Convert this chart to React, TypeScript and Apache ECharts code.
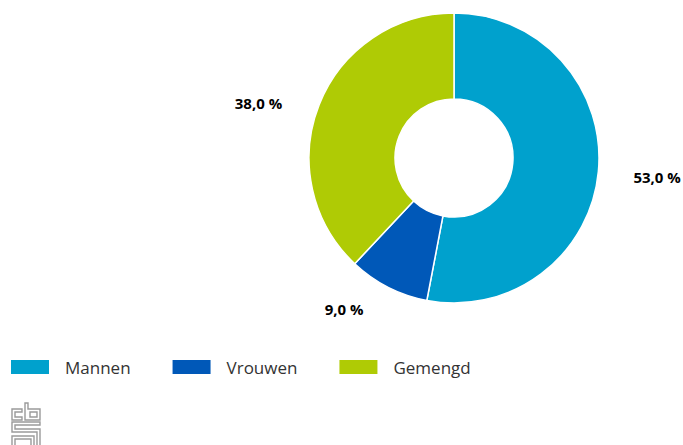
import React, { useEffect, useRef } from "react";
import * as echarts from "echarts";

const categories = ["Mannen", "Vrouwen", "Gemengd"];
const values = [53.0, 9.0, 38.0];
const colors = ["#00a1cd", "#0058b8", "#afcb05"];
const labelAngleShift = [0, 9, -6];
const labelRadius = [204, 187, 203];

const CX = 454;
const CY = 158;

export default function App() {
  const ref = useRef<HTMLDivElement>(null);
  useEffect(() => {
    document.body.style.margin = "0";
    const chart = echarts.init(ref.current!, null, { renderer: "svg" });
    const total = values.reduce((a, b) => a + b, 0);
    const mids: number[] = [];
    let acc = 0;
    values.forEach((v) => {
      mids.push(((acc + v / 2) / total) * 360);
      acc += v;
    });
    const logoStyle = { stroke: "#9a9a9a", lineWidth: 1.4, fill: "none" };
    chart.setOption({
      animation: false,
      color: colors,
      legend: {
        data: categories,
        left: 9,
        top: 358,
        padding: 0,
        icon: "rect",
        itemWidth: 40,
        itemHeight: 16,
        itemGap: 40,
        selectedMode: false,
        textStyle: {
          fontFamily: "Open Sans",
          fontSize: 17,
          color: "#333333",
          padding: [0, 0, 0, 10],
        },
      },
      series: [
        {
          type: "pie",
          center: [CX, CY],
          radius: [59, 145],
          startAngle: 90,
          clockwise: true,
          silent: true,
          itemStyle: { borderColor: "#ffffff", borderWidth: 1.5 },
          label: {
            show: true,
            position: "outside",
            overflow: "none",
            width: 80,
            fontFamily: "Open Sans",
            fontWeight: "bold",
            fontSize: 15,
            color: "#000000",
            formatter: (p: any) => p.value.toFixed(1).replace(".", ",") + " %",
          },
          labelLine: { show: false },
          labelLayout: (params: any) => {
            const i = params.dataIndex;
            const a = ((mids[i] + labelAngleShift[i]) * Math.PI) / 180;
            const r = labelRadius[i];
            return {
              x: CX + r * Math.sin(a),
              y: CY - r * Math.cos(a),
              align: "center",
              verticalAlign: "middle",
            };
          },
          data: categories.map((c, i) => ({ name: c, value: values[i] })),
        },
      ],
      graphic: [
        {
          type: "polygon",
          shape: { points: [[12, 409], [22, 409], [22, 412], [15, 412], [15, 417], [22, 417], [22, 420], [12, 420]] },
          style: logoStyle,
        },
        {
          type: "polygon",
          shape: { points: [[25, 403], [28, 403], [28, 409], [40, 409], [40, 420], [25, 420]] },
          style: logoStyle,
        },
        {
          type: "rect",
          shape: { x: 30, y: 412, width: 7, height: 5 },
          style: logoStyle,
        },
        {
          type: "polygon",
          shape: { points: [[12, 422], [40, 422], [40, 425], [15, 425], [15, 429], [40, 429], [40, 446], [37, 446], [37, 432], [12, 432]] },
          style: logoStyle,
        },
        {
          type: "polyline",
          shape: { points: [[12, 446], [12, 436], [34, 436], [34, 446]] },
          style: logoStyle,
        },
        {
          type: "polyline",
          shape: { points: [[15, 446], [15, 439], [31, 439], [31, 446]] },
          style: logoStyle,
        },
      ],
    });
    return () => chart.dispose();
  }, []);
  return (
    <div
      ref={ref}
      style={{ position: "absolute", left: 0, top: 0, width: 683, height: 445 }}
    />
  );
}
